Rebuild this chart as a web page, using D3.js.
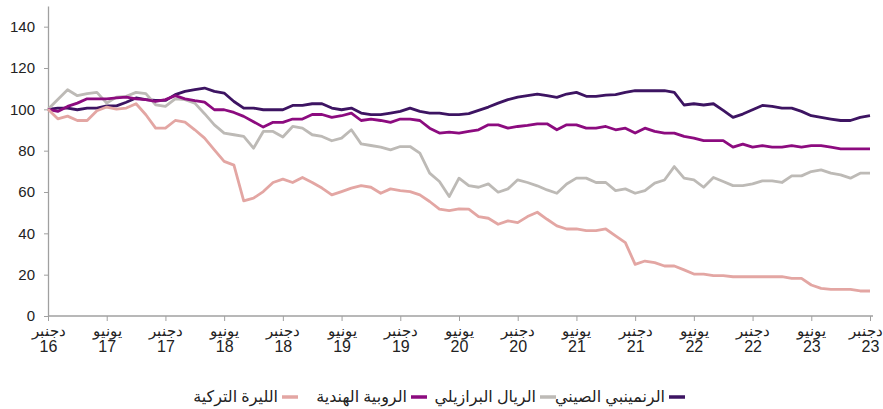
<!DOCTYPE html>
<html lang="ar">
<head>
<meta charset="utf-8">
<script src="https://cdn.jsdelivr.net/npm/d3@7"></script>
<style>
  body { margin: 0; background: #fff; }
  svg { display: block; font-family: "Open Sans", "DejaVu Sans", sans-serif; }
</style>
</head>
<body>
<div id="chart"></div>
<script>
// monthly index, Dec 2016 = 100
const seriesNames = ["الرنمينبي الصيني", "الريال البرازيلي", "الروبية الهندية", "الليرة التركية"];
const seriesColors = ["#3d1462", "#bdbab6", "#8c0b7f", "#e3a6a3"];

const china = [100,100.6,100.6,99.8,100.6,100.6,101.7,101.7,103.4,105.5,104.7,104.3,104.3,107.1,108.7,109.5,110.3,108.7,107.9,103.8,100.6,100.6,
  99.8,99.8,99.8,101.9,101.9,102.7,102.7,100.6,99.8,100.6,98.2,97.4,97.4,98.2,99.0,100.6,99.0,98.2,98.2,97.4,97.4,
  97.9,99.5,101.1,103.0,104.7,105.9,106.6,107.4,106.6,105.8,107.4,108.2,106.3,106.3,106.9,107.1,108.2,109.0,109.0,109.0,109.0,
  108.2,102.1,102.7,102.1,102.7,99.5,96.1,97.7,99.8,101.9,101.4,100.6,100.6,99.0,96.9,96.1,95.3,94.6,94.6,96.1,96.9];

const brazil = [100,104.8,109.5,106.6,107.6,108.2,103.0,105.9,106.3,108.2,107.6,102.2,101.4,105.1,104.7,103.0,97.9,92.5,88.5,87.7,86.9,81.2,
  89.3,89.3,86.6,91.7,90.9,87.7,86.9,84.8,86.1,90.1,83.3,82.5,81.7,80.4,82.0,82.0,78.8,69.1,65.1,57.8,66.7,
  63.1,62.3,63.9,59.9,61.5,65.9,64.6,63.0,61.0,59.4,63.9,66.7,66.7,64.6,64.6,60.7,61.5,59.4,60.7,64.3,65.8,
  72.3,66.7,65.9,62.3,67.0,65.1,63.1,63.1,63.9,65.4,65.4,64.6,67.8,67.8,69.9,70.7,69.1,68.3,66.7,69.1,69.1];

const india = [100,99.0,101.4,103.0,105.1,105.1,105.1,105.5,105.9,105.1,104.7,103.8,104.7,106.6,105.1,104.2,103.5,99.8,99.8,98.5,96.6,94.0,
  91.4,93.7,93.7,95.3,95.3,97.5,97.5,96.1,96.9,98.2,94.6,95.3,94.6,93.7,95.3,95.3,94.6,90.9,88.5,89.0,88.5,
  89.3,90.1,92.5,92.5,90.9,91.7,92.2,93.0,93.0,90.1,92.5,92.5,90.9,90.9,91.7,90.1,90.9,88.5,90.9,89.3,88.5,
  88.5,86.9,86.1,84.9,84.9,84.9,81.7,83.2,81.7,82.4,81.7,81.7,82.4,81.7,82.4,82.4,81.7,80.9,80.9,80.9,80.9];

const turkey = [100,95.4,96.7,94.6,94.6,99.3,101.1,100.1,100.6,102.7,97.4,90.9,90.9,94.6,93.8,90.1,86.1,80.4,74.8,73.0,55.7,57.0,
  60.2,64.6,66.2,64.6,67.0,64.6,61.9,58.6,60.2,61.9,63.1,62.3,59.4,61.5,60.7,60.2,58.6,55.4,51.7,51.0,51.8,
  51.7,48.1,47.3,44.4,46.0,45.2,48.1,50.2,46.8,43.6,42.1,42.1,41.3,41.3,42.1,38.8,35.5,25.0,26.6,25.8,24.2,
  24.2,22.3,20.3,20.3,19.5,19.5,19.0,19.0,19.0,19.0,19.0,19.0,18.2,18.2,15.0,13.4,12.9,12.9,12.9,12.1,12.1];

// x tick labels every 6 months
const tickMonths = ["دجنبر","يونيو","دجنبر","يونيو","دجنبر","يونيو","دجنبر","يونيو","دجنبر","يونيو","دجنبر","يونيو","دجنبر","يونيو","دجنبر"];
const tickYears = ["16","17","17","18","18","19","19","20","20","21","21","22","22","23","23"];
const yTicks = [0,20,40,60,80,100,120,140];

const allSeries = [china, brazil, india, turkey];

const W = 883, H = 409;
const margin = {top: 6, left: 48, bottom: 93, right: 13};
const plotW = W - margin.left - margin.right;
const plotH = H - margin.top - margin.bottom;

const svg = d3.select("#chart").append("svg")
  .attr("width", W)
  .attr("height", H);

const g = svg.append("g")
  .attr("transform", `translate(${margin.left},${margin.top})`);

const x = d3.scaleLinear().domain([0, china.length - 1]).range([0, plotW]);
const y = d3.scaleLinear().domain([0, 150]).range([plotH, 0]);

// y axis
const yAxis = g.append("g")
  .call(d3.axisLeft(y).tickValues(yTicks).tickSize(4).tickPadding(9).tickSizeOuter(0));
yAxis.select(".domain").attr("stroke", "#a0a0a0").attr("stroke-width", 1.3);
yAxis.selectAll(".tick line").attr("stroke", "#a0a0a0");
yAxis.selectAll(".tick text").attr("font-size", 15).attr("fill", "#222");

// x axis
const xTicks = tickMonths.map((d, i) => i * 6);
const xAxis = g.append("g")
  .attr("transform", `translate(0,${plotH})`)
  .call(d3.axisBottom(x).tickValues(xTicks).tickSize(5).tickSizeOuter(0).tickFormat(""));
xAxis.select(".domain").attr("stroke", "#a0a0a0").attr("stroke-width", 1.3)
  .attr("d", `M0,0H${plotW + 3}`);
xAxis.selectAll(".tick line").attr("stroke", "#a0a0a0");

const lastTick = xTicks.length - 1;
const labels = xAxis.selectAll(".tick").append("text")
  .attr("fill", "#222")
  .attr("text-anchor", "middle");
labels.append("tspan")
  .attr("x", (d, i) => i === lastTick ? W - margin.left - x(d) - 1 : 0)
  .attr("text-anchor", (d, i) => i === lastTick ? "end" : "middle")
  .attr("y", 20).attr("font-size", 15)
  .text((d, i) => tickMonths[i]);
labels.append("tspan").attr("x", 0).attr("y", 36).attr("font-size", 16)
  .text((d, i) => tickYears[i]);

// lines
const line = d3.line()
  .x((d, i) => x(i))
  .y(d => y(d));

g.selectAll(".series")
  .data(allSeries)
  .enter()
  .append("path")
  .attr("class", "series")
  .attr("d", d => line(d))
  .attr("fill", "none")
  .attr("stroke", (d, i) => seriesColors[i])
  .attr("stroke-width", 2.8)
  .attr("stroke-linejoin", "round");

// legend, right to left
const legendX = [685, 556, 427, 298];
const legend = svg.append("g").attr("transform", "translate(0,397)");
seriesNames.forEach((name, i) => {
  legend.append("line")
    .attr("x1", legendX[i] - 16).attr("x2", legendX[i])
    .attr("stroke", seriesColors[i])
    .attr("stroke-width", 3.5);
  legend.append("text")
    .attr("x", legendX[i] - 20)
    .attr("dy", "0.32em")
    .attr("text-anchor", "end")
    .attr("font-size", 16)
    .attr("fill", "#222")
    .text(name);
});
</script>
</body>
</html>
